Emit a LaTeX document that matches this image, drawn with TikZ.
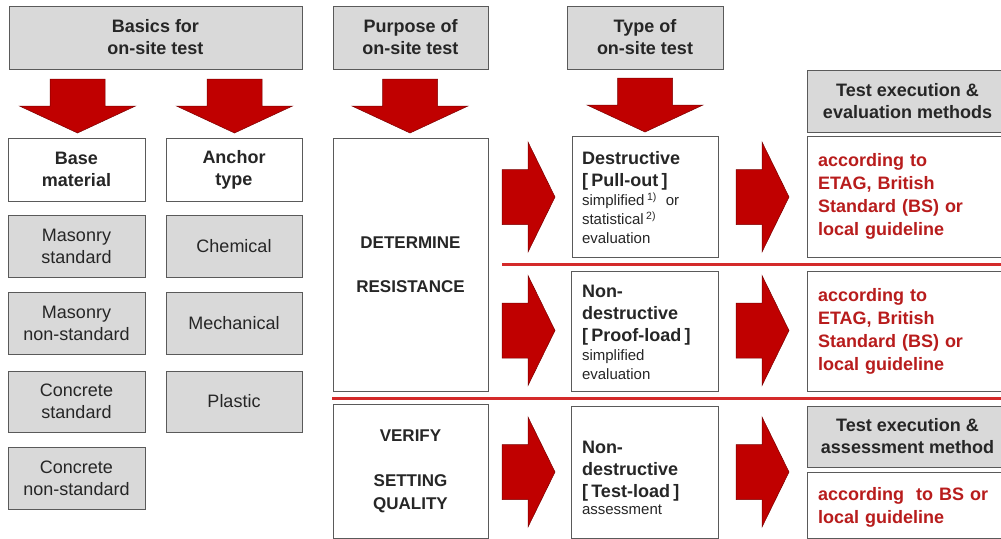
\documentclass[tikz,border=0pt]{standalone}
\usepackage{fontspec}
\setmainfont{Liberation Sans}
\definecolor{boxgray}{HTML}{D9D9D9}
\definecolor{edgegray}{HTML}{5A5A5A}
\definecolor{arrred}{HTML}{C00000}
\definecolor{arredge}{HTML}{7A0000}
\definecolor{txtred}{HTML}{B81C1C}
\definecolor{linered}{HTML}{D42A2A}
\newcommand{\tbold}{\bfseries\fontsize{18}{22}\selectfont}
\newcommand{\tsmall}{\mdseries\fontsize{15}{19}\selectfont}
\tikzset{
  basebox/.style={draw=edgegray, line width=0.9pt, inner sep=0pt, align=center, text=black!85},
  graybox/.style={basebox, fill=boxgray},
  whitebox/.style={basebox, fill=white},
  headfont/.style={font=\bfseries\fontsize{18}{22}\selectfont},
  itemfont/.style={font=\fontsize{18}{22}\selectfont},
  redfont/.style={font=\bfseries\fontsize{18}{23}\selectfont, text=txtred},
  typetext/.style={align=left, text width=130, inner sep=0pt, anchor=center, text=black!85},
  darr/.pic={
    \fill[arrred, draw=arredge, line width=0.5pt]
      (-27.5,0) -- (27.5,0) -- (27.5,27) -- (58,27) -- (0,54) -- (-58,27) -- (-27.5,27) -- cycle;
  },
  rarr/.pic={
    \fill[arrred, draw=arredge, line width=0.5pt]
      (0,-27.5) -- (26,-27.5) -- (26,-55) -- (53,0) -- (26,55) -- (26,27.5) -- (0,27.5) -- cycle;
  },
  sepline/.style={draw=linered, line width=3pt}
}
\begin{document}
\begin{tikzpicture}[x=1pt,y=-1pt]
\useasboundingbox (0,0) rectangle (1001,538);
\clip (0,0) rectangle (1001,538);

% header boxes
\node[graybox, headfont, minimum width=293, minimum height=63] (basics) at (155.5,37.5) {Basics for\\on-site test};
\node[graybox, headfont, minimum width=155, minimum height=63] (purpose) at (410.5,37.5) {Purpose of\\on-site test};
\node[graybox, headfont, minimum width=156, minimum height=63] (type) at (645,37.5) {Type of\\on-site test};
\node[graybox, headfont, minimum width=201, minimum height=62] (exec1) at (907.5,101) {Test execution \&\\evaluation methods};

% down arrows
\pic at (77.5,79) {darr};
\pic at (234.5,79) {darr};
\pic at (410,79) {darr};
\pic at (645,78) {darr};

% basics column
\node[whitebox, headfont, minimum width=137, minimum height=63] (base) at (76.5,169.5) {Base\\material};
\node[whitebox, headfont, minimum width=136, minimum height=63] (anchor) at (234,169.5) {Anchor\\type};
\node[graybox, itemfont, minimum width=137, minimum height=62] (ms) at (76.5,246) {Masonry\\standard};
\node[graybox, itemfont, minimum width=137, minimum height=62] (mns) at (76.5,323) {Masonry\\non-standard};
\node[graybox, itemfont, minimum width=137, minimum height=61] (cs) at (76.5,401.5) {Concrete\\standard};
\node[graybox, itemfont, minimum width=137, minimum height=62] (cns) at (76.5,478) {Concrete\\non-standard};
\node[graybox, itemfont, minimum width=136, minimum height=62] (chem) at (234,246) {Chemical};
\node[graybox, itemfont, minimum width=136, minimum height=62] (mech) at (234,323) {Mechanical};
\node[graybox, itemfont, minimum width=136, minimum height=61] (plast) at (234,401.5) {Plastic};

% purpose column
\node[whitebox, font=\bfseries\fontsize{17}{44}\selectfont, minimum width=155, minimum height=253] (det) at (410.5,264.5) {DETERMINE\\RESISTANCE};
\node[whitebox, font=\bfseries\fontsize{17}{23}\selectfont, minimum width=155, minimum height=134] (ver) at (410.5,471) {VERIFY\\[22pt]SETTING\\QUALITY};

% separator lines
\draw[sepline] (502,264) -- (1001,264);
\draw[sepline] (332,398) -- (1001,398);

% type column
\node[whitebox, minimum width=146, minimum height=121] (destr) at (645,196.5) {};
\node[typetext] (destrt) at (647,197.5)
  {{\tbold Destructive\\{[} Pull-out {]}\par}
   {\tsmall simplified\,\textsuperscript{1)}\hspace{9pt}or\\statistical\,\textsuperscript{2)}\\evaluation\par}};
\node[whitebox, minimum width=147, minimum height=120] (proof) at (644.5,331) {};
\node[typetext] (prooft) at (647,332.5)
  {{\tbold Non-\\destructive\\{[} Proof-load {]}\par}
   {\tsmall simplified\\evaluation\par}};
\node[whitebox, minimum width=147, minimum height=132] (testl) at (644.5,472) {};
\node[typetext] (testlt) at (647,477.5)
  {{\tbold Non-\\destructive\\{[} Test-load {]}\par}
   {\tsmall\baselineskip=17pt assessment\par}};

% right arrows
\pic at (502,197) {rarr};
\pic at (502,330.5) {rarr};
\pic at (502,472) {rarr};
\pic at (736,197) {rarr};
\pic at (736,330.5) {rarr};
\pic at (736,472) {rarr};

% result column
\node[whitebox, redfont, align=left, text width=179, minimum width=201, minimum height=121] (res1) at (907.5,196.5)
  {according to\\ETAG, British\\Standard (BS) or\\local guideline};
\node[whitebox, redfont, align=left, text width=179, minimum width=201, minimum height=120] (res2) at (907.5,331)
  {according to\\ETAG, British\\Standard (BS) or\\local guideline};
\node[graybox, headfont, minimum width=201, minimum height=61] (exec2) at (907.5,436.5) {Test execution \&\\assessment method};
\node[whitebox, minimum width=201, minimum height=66] (res3) at (907.5,505) {};
\node[redfont, align=left, text width=179, inner sep=0pt] (res3t) at (907.5,507.5)
  {according\ \ to BS or\\local guideline};
\end{tikzpicture}
\end{document}
